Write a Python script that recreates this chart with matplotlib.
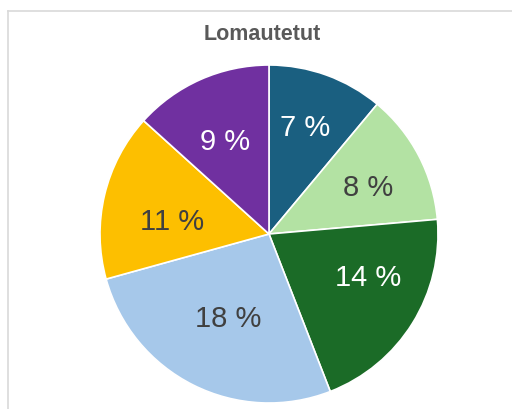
import numpy as np
import matplotlib.pyplot as plt
from matplotlib.lines import Line2D

plt.rcParams['font.family'] = ['Liberation Sans', 'DejaVu Sans']

# Data
values = [7.4, 8.4, 13.7, 17.8, 10.7, 8.9]
labels = ['7 %', '8 %', '14 %', '18 %', '11 %', '9 %']
colors = ['#1a5f80', '#b3e2a3', '#1b6b27', '#a6c8ea', '#fdbf00', '#7030a0']
text_colors = ['white', '#404040', 'white', '#404040', '#404040', 'white']
# label placement tweaks (radius, angle shift in degrees) to mimic the original layout
label_r = [0.67, 0.65, 0.64, 0.55, 0.58, 0.61]
label_shift = [1.3, -2.2, 8.4, 0.9, 5.7, 1.4]

W, H = 512, 410
fig = plt.figure(figsize=(W / 100, H / 100), dpi=100)

# outer chart frame (partly cropped in the reference)
fig.add_artist(Line2D([8 / W, 1], [1 - 12 / H, 1 - 12 / H], color='#d9d9d9', lw=1.2))
fig.add_artist(Line2D([8 / W, 8 / W], [0, 1 - 12 / H], color='#d9d9d9', lw=1.2))

cx, cy, r = 269, 235, 169
ax = fig.add_axes([(cx - r) / W, (H - cy - r) / H, 2 * r / W, 2 * r / H])
wedges, texts = ax.pie(values, labels=labels, colors=colors, startangle=90,
                       counterclock=False, labeldistance=0.63,
                       wedgeprops=dict(edgecolor='white', linewidth=1.2),
                       textprops=dict(fontsize=21, ha='center', va='center'))
for w, t, c, lr, sh in zip(wedges, texts, text_colors, label_r, label_shift):
    t.set_color(c)
    ang = np.deg2rad((w.theta1 + w.theta2) / 2 + sh)
    t.set_position((lr * np.cos(ang), lr * np.sin(ang)))
ax.set_xlim(-1, 1)
ax.set_ylim(-1, 1)
ax.set_aspect('equal')
ax.axis('off')

fig.text(262 / W, 1 - 34 / H, 'Lomautetut', ha='center', va='center',
         fontsize=15.5, fontweight='bold', color='#595959')

plt.savefig('out.png', dpi=100)
